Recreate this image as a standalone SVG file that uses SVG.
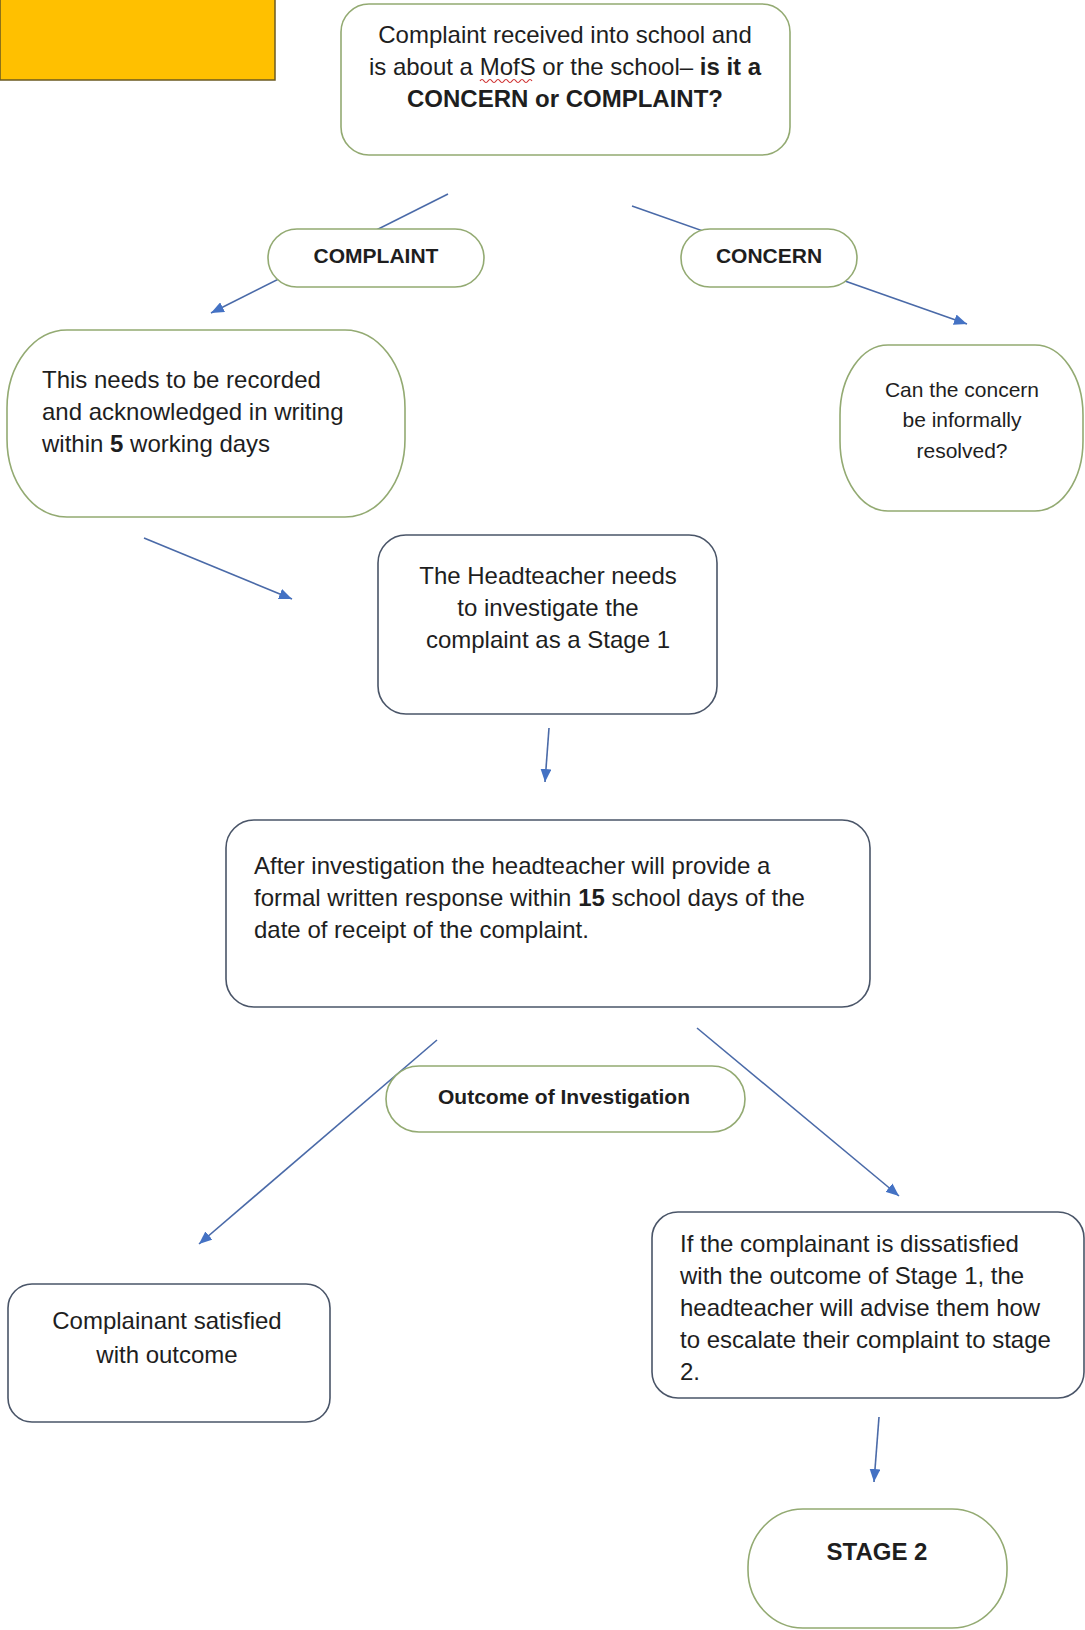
<svg xmlns="http://www.w3.org/2000/svg" width="1085" height="1630" viewBox="0 0 1085 1630">
<defs>
<marker id="arr" viewBox="0 0 12 10" refX="12" refY="5" markerWidth="13" markerHeight="11" markerUnits="userSpaceOnUse" orient="auto">
<path d="M0,0 L12,5 L0,10 Z" fill="#4472c4"/>
</marker>
<style>
.g{fill:#fff;stroke:#93aa72;stroke-width:1.6}
.b{fill:#fff;stroke:#4a5568;stroke-width:1.6}
.t{font-family:"Liberation Sans",Arial,sans-serif;font-size:24px;fill:#1e1e1e}
.c{text-anchor:middle}
.bd{font-weight:bold}
.ln{stroke:#4a6aa8;stroke-width:1.6;fill:none;marker-end:url(#arr)}
</style>
</defs>
<rect width="1085" height="1630" fill="#fff"/>
<rect x="0" y="-2" width="275" height="82" fill="#ffc000" stroke="#6b5a20" stroke-width="1.5"/>

<g id="connectors">
<line class="ln" x1="448" y1="194" x2="211" y2="313"/>
<line class="ln" x1="632" y1="206" x2="967" y2="324"/>
<line class="ln" x1="144" y1="538" x2="292" y2="599"/>
<line class="ln" x1="549" y1="728" x2="545" y2="782"/>
<line class="ln" x1="437" y1="1040" x2="199" y2="1244"/>
<line class="ln" x1="697" y1="1028" x2="899" y2="1196"/>
<line class="ln" x1="879" y1="1417" x2="874" y2="1482"/>
</g>

<g id="start">
<rect class="g" x="341" y="4" width="449" height="151" rx="28"/>
<text class="t c" x="565" y="43">Complaint received into school and</text>
<text class="t c" x="565" y="75">is about a MofS or the school– <tspan class="bd">is it a</tspan></text>
<text class="t c bd" x="565" y="107">CONCERN or COMPLAINT?</text>
<path d="M480,81 q2,-3 4,0 t4,0 t4,0 t4,0 t4,0 t4,0 t4,0 t4,0 t4,0 t4,0 t4,0 t4,0 t4,0" fill="none" stroke="#d03030" stroke-width="1.2"/>
</g>

<g id="complaint">
<rect class="g" x="268" y="229" width="216" height="58" rx="29"/>
<text class="t c bd" x="376" y="263" style="font-size:21px">COMPLAINT</text>
</g>

<g id="concern">
<rect class="g" x="681" y="229" width="176" height="58" rx="29"/>
<text class="t c bd" x="769" y="263" style="font-size:21px">CONCERN</text>
</g>

<g id="record">
<rect class="g" x="7" y="330" width="398" height="187" rx="60" ry="78"/>
<text class="t" x="42" y="388">This needs to be recorded</text>
<text class="t" x="42" y="420">and acknowledged in writing</text>
<text class="t" x="42" y="452">within <tspan class="bd">5</tspan> working days</text>
</g>

<g id="informal">
<rect class="g" x="840" y="345" width="243" height="166" rx="48" ry="70"/>
<text class="t c" x="962" y="397" style="font-size:21px">Can the concern</text>
<text class="t c" x="962" y="427" style="font-size:21px">be informally</text>
<text class="t c" x="962" y="458" style="font-size:21px">resolved?</text>
</g>

<g id="investigate">
<rect class="b" x="378" y="535" width="339" height="179" rx="28"/>
<text class="t c" x="548" y="584">The Headteacher needs</text>
<text class="t c" x="548" y="616">to investigate the</text>
<text class="t c" x="548" y="648">complaint as a Stage 1</text>
</g>

<g id="response">
<rect class="b" x="226" y="820" width="644" height="187" rx="28"/>
<text class="t" x="254" y="874">After investigation the headteacher will provide a</text>
<text class="t" x="254" y="906">formal written response within <tspan class="bd">15</tspan> school days of the</text>
<text class="t" x="254" y="938">date of receipt of the complaint.</text>
</g>

<g id="outcome">
<rect class="g" x="386" y="1066" width="359" height="66" rx="33"/>
<text class="t c bd" x="564" y="1104" style="font-size:21px">Outcome of Investigation</text>
</g>

<g id="satisfied">
<rect class="b" x="8" y="1284" width="322" height="138" rx="24"/>
<text class="t c" x="167" y="1329">Complainant satisfied</text>
<text class="t c" x="167" y="1363">with outcome</text>
</g>

<g id="dissatisfied">
<rect class="b" x="652" y="1212" width="432" height="186" rx="26"/>
<text class="t" x="680" y="1252">If the complainant is dissatisfied</text>
<text class="t" x="680" y="1284">with the outcome of Stage 1, the</text>
<text class="t" x="680" y="1316">headteacher will advise them how</text>
<text class="t" x="680" y="1348">to escalate their complaint to stage</text>
<text class="t" x="680" y="1380">2.</text>
</g>

<g id="stage2">
<rect class="g" x="748" y="1509" width="259" height="119" rx="55" ry="58"/>
<text class="t c bd" x="877" y="1560">STAGE 2</text>
</g>
</svg>
